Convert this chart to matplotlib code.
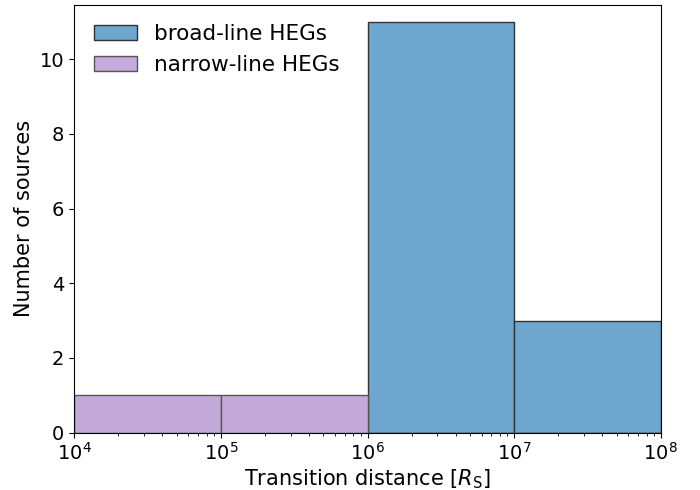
import matplotlib.pyplot as plt
import numpy as np

# Log bins, one per decade (R_S)
bin_edges = [1e4, 1e5, 1e6, 1e7, 1e8]
broad_counts = [0, 0, 11, 3]
narrow_counts = [1, 1, 0, 0]

fig, ax = plt.subplots(figsize=(7, 4.9), dpi=100)

centers = np.sqrt(np.array(bin_edges[:-1]) * np.array(bin_edges[1:]))

ax.hist(centers, bins=bin_edges, weights=broad_counts, color='#6da6ce',
        edgecolor='#333333', linewidth=1.0, label='broad-line HEGs')
ax.hist(centers, bins=bin_edges, weights=narrow_counts, color='#c4aadb',
        edgecolor='#555555', linewidth=1.0, label='narrow-line HEGs')

ax.set_xscale('log')
ax.set_xlim(1e4, 1e8)
ax.set_ylim(0, 11.45)
ax.set_yticks([0, 2, 4, 6, 8, 10])

ax.set_xlabel(r'Transition distance [$R_{\rm S}$]', fontsize=15, labelpad=2)
ax.set_ylabel('Number of sources', fontsize=15)
ax.tick_params(axis='both', labelsize=14)

ax.legend(loc='upper left', fontsize=15.5, frameon=False)

fig.subplots_adjust(left=0.106, right=0.944, top=0.99, bottom=0.117)
fig.savefig('out.png', dpi=100)
